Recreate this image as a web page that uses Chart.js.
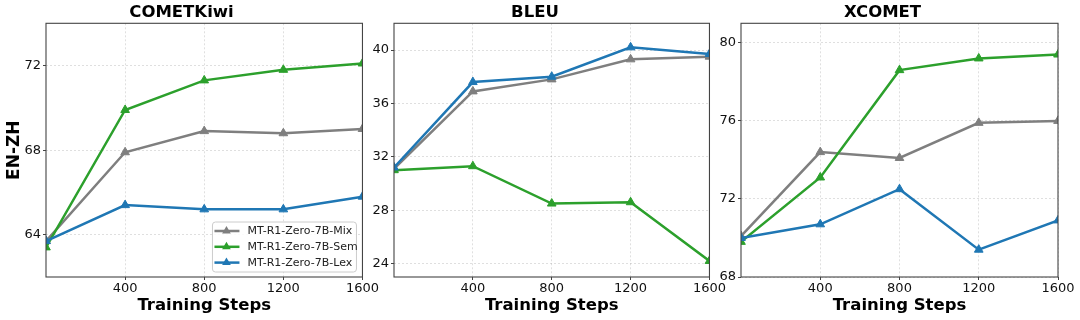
<!DOCTYPE html>
<html>
<head>
<meta charset="utf-8">
<script src="https://cdn.jsdelivr.net/npm/chart.js@4/dist/chart.umd.min.js"></script>
<style>
  html, body { margin: 0; padding: 0; background: #fff; }
  #wrap { position: relative; width: 1080px; height: 320px; overflow: hidden; }
  .panel { position: absolute; top: 0; height: 320px; }
</style>
</head>
<body>
<div id="wrap">
  <div class="panel" style="left:0px;width:380px"><canvas id="c1"></canvas></div>
  <div class="panel" style="left:360px;width:367px"><canvas id="c2"></canvas></div>
  <div class="panel" style="left:707px;width:373px"><canvas id="c3"></canvas></div>
</div>
<script>
// training steps on the x axis
const steps = [0, 400, 800, 1200, 1600];
const stepTicks = [400, 800, 1200, 1600];

const seriesNames = ["MT-R1-Zero-7B-Mix", "MT-R1-Zero-7B-Sem", "MT-R1-Zero-7B-Lex"];

// COMETKiwi
const cometMix = [63.7, 67.9, 68.9, 68.8, 69.0];
const cometSem = [63.4, 69.9, 71.3, 71.8, 72.1];
const cometLex = [63.7, 65.4, 65.2, 65.2, 65.8];
const cometTicks = [64, 68, 72];

// BLEU
const bleuMix = [31.1, 36.9, 37.8, 39.3, 39.5];
const bleuSem = [31.0, 31.3, 28.5, 28.6, 24.2];
const bleuLex = [31.2, 37.6, 38.0, 40.2, 39.7];
const bleuTicks = [24, 28, 32, 36, 40];

// XCOMET
const xcometMix = [70.1, 74.4, 74.1, 75.9, 76.0];
const xcometSem = [69.8, 73.1, 78.6, 79.2, 79.4];
const xcometLex = [70.0, 70.7, 72.5, 69.4, 70.9];
const xcometTicks = [68, 72, 76, 80];

const colors = ['#7f7f7f', '#2ca02c', '#1f77b4'];
const FONT = "'DejaVu Sans', sans-serif";

// draws the full box around the plot area (matplotlib spines)
const framePlugin = {
  id: 'frame',
  afterDatasetsDraw(chart) {
    const a = chart.chartArea, ctx = chart.ctx;
    ctx.save();
    ctx.strokeStyle = '#444';
    ctx.lineWidth = 1.1;
    ctx.strokeRect(a.left, a.top, a.right - a.left, a.bottom - a.top);
    ctx.restore();
  }
};

// legend box in the lower right of the first panel
const boxLegend = {
  id: 'boxLegend',
  afterDraw(chart, args, opts) {
    if (!opts.show) return;
    const ctx = chart.ctx, a = chart.chartArea;
    const w = 144, h = 50;
    const x0 = a.right - 6 - w, y0 = a.bottom - 5 - h;
    ctx.save();
    ctx.beginPath();
    ctx.roundRect(x0, y0, w, h, 3);
    ctx.fillStyle = 'rgba(255,255,255,0.85)';
    ctx.fill();
    ctx.strokeStyle = '#cccccc';
    ctx.lineWidth = 1;
    ctx.stroke();
    ctx.font = '11px ' + FONT;
    ctx.textBaseline = 'middle';
    seriesNames.forEach((name, i) => {
      const y = y0 + 9 + i * 15.8;
      ctx.strokeStyle = colors[i];
      ctx.fillStyle = colors[i];
      ctx.lineWidth = 2.5;
      ctx.beginPath();
      ctx.moveTo(x0 + 2, y);
      ctx.lineTo(x0 + 27, y);
      ctx.stroke();
      const r = 5;
      ctx.beginPath();
      ctx.moveTo(x0 + 14, y - r);
      ctx.lineTo(x0 + 14 + r * 0.866, y + r * 0.5);
      ctx.lineTo(x0 + 14 - r * 0.866, y + r * 0.5);
      ctx.closePath();
      ctx.fill();
      ctx.fillStyle = '#222';
      ctx.fillText(name, x0 + 35, y + 0.5);
    });
    ctx.restore();
  }
};

function makeChart(id, title, series, yMin, yMax, yTicks, yTitle, yWidth, padRight, legend) {
  const datasets = series.map((vals, i) => ({
    label: seriesNames[i],
    data: steps.map((s, j) => ({x: s, y: vals[j]})),
    borderColor: colors[i],
    backgroundColor: colors[i],
    borderWidth: 2.5,
    pointStyle: 'triangle',
    pointRadius: 5,
    pointBorderWidth: 1,
    tension: 0,
    order: 2 - i
  }));

  return new Chart(document.getElementById(id), {
    type: 'line',
    data: {datasets: datasets},
    plugins: [framePlugin, boxLegend],
    options: {
      responsive: false,
      animation: false,
      layout: {padding: {left: 0, right: padRight, top: 0, bottom: 0}},
      plugins: {
        legend: {display: false},
        tooltip: {enabled: false},
        boxLegend: {show: legend},
        title: {
          display: true,
          text: title,
          color: '#000',
          font: {family: FONT, size: 16.5, weight: 'bold'},
          padding: {top: 2.5, bottom: 1}
        }
      },
      scales: {
        x: {
          type: 'linear',
          min: 0,
          max: 1600,
          afterBuildTicks: (s) => { s.ticks = stepTicks.map(v => ({value: v})); },
          afterFit: (s) => { s.height = 43; },
          ticks: {color: '#111', font: {family: FONT, size: 13}, padding: 1, maxRotation: 0,
                  callback: (v) => String(v)},
          grid: {color: 'rgba(0,0,0,0.16)', lineWidth: 0.8, tickLength: 3, tickColor: '#444', tickWidth: 1},
          border: {display: false, dash: [2, 2]},
          title: {
            display: true,
            text: 'Training Steps',
            color: '#000',
            font: {family: FONT, size: 16.5, weight: 'bold'},
            padding: {top: 0, bottom: 4}
          }
        },
        y: {
          min: yMin,
          max: yMax,
          afterBuildTicks: (s) => { s.ticks = yTicks.map(v => ({value: v})); },
          afterFit: (s) => { s.width = yWidth; },
          ticks: {color: '#111', font: {family: FONT, size: 13}, padding: 2, callback: (v) => String(v)},
          grid: {color: 'rgba(0,0,0,0.16)', lineWidth: 0.8, tickLength: 3, tickColor: '#444', tickWidth: 1},
          border: {display: false, dash: [2, 2]},
          title: {
            display: !!yTitle,
            text: yTitle || '',
            color: '#000',
            font: {family: FONT, size: 17, weight: 'bold'},
            padding: {top: 4, bottom: 0}
          }
        }
      }
    }
  });
}

function sizeCanvas(id, w) {
  const c = document.getElementById(id);
  c.width = w; c.height = 320;
  c.style.width = w + 'px'; c.style.height = '320px';
}
sizeCanvas('c1', 380);
sizeCanvas('c2', 367);
sizeCanvas('c3', 373);

makeChart('c1', 'COMETKiwi', [cometMix, cometSem, cometLex], 62, 74, cometTicks, 'EN-ZH', 46, 17, true);
makeChart('c2', 'BLEU', [bleuMix, bleuSem, bleuLex], 23, 42, bleuTicks, null, 34, 17, false);
makeChart('c3', 'XCOMET', [xcometMix, xcometSem, xcometLex], 68, 81, xcometTicks, null, 34, 22, false);
</script>
</body>
</html>
